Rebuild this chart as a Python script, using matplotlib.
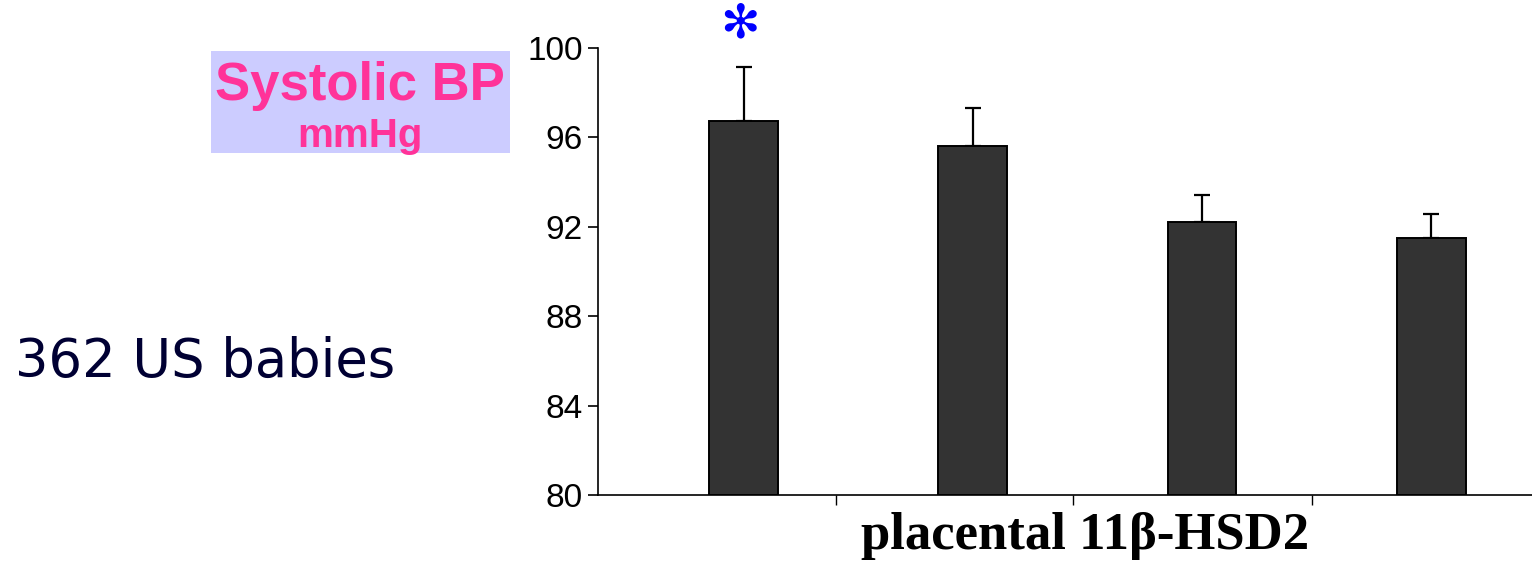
import matplotlib
matplotlib.use("Agg")
import matplotlib.pyplot as plt
from matplotlib.patches import Rectangle

# Data
groups = ["Q1", "Q2", "Q3", "Q4"]
means = [96.73, 95.62, 92.21, 91.50]
errors_up = [2.42, 1.70, 1.21, 1.07]
yticks = [80, 84, 88, 92, 96, 100]
xlabel = "placental 11β-HSD2"
ylabel_main = "Systolic BP"
ylabel_unit = "mmHg"
side_text = "362 US babies"
sig_marker = "✻"
sig_index = 0

W, H = 1532, 565
fig = plt.figure(figsize=(W / 100, H / 100), dpi=100)
ax = fig.add_axes([598 / W, 1 - 495 / H, 1 - 598 / W, (495 - 48) / H])

xs = list(range(len(groups)))
ax.bar(xs, [m - 80 for m in means], bottom=80, width=0.30, color="#333333",
       edgecolor="black", linewidth=1.4, zorder=2)
ax.errorbar(xs, means, yerr=[[0] * len(means), errors_up], fmt="none",
            ecolor="black", elinewidth=1.6, capsize=6, capthick=1.6, zorder=1)

ax.set_ylim(80, 100)
ax.set_xlim(-0.635, 3.44)
ax.set_yticks(yticks)
ax.set_yticklabels([str(v) for v in yticks], fontsize=24, family="Liberation Sans")
ax.set_xticks([0.404, 1.439, 2.478])
ax.set_xticklabels([])
ax.tick_params(axis="y", direction="out", length=7, width=1.2, pad=4)
ax.tick_params(axis="x", direction="out", length=7, width=1.0)
for s in ["top", "right"]:
    ax.spines[s].set_visible(False)
ax.spines["left"].set_linewidth(1.2)
ax.spines["bottom"].set_linewidth(1.2)

# significance marker
sig_x_fig = ax.transData.transform((xs[sig_index], 80))[0] / W
fig.text(sig_x_fig - 4 / W, 1 - 25 / H, sig_marker, ha="center", va="center",
         fontsize=34, color="#0000FF", family="DejaVu Sans")

# x label
fig.text(1085 / W, 1 - 549 / H, xlabel, ha="center", va="baseline", fontsize=38,
         fontweight="bold", family="Liberation Serif")

# y label box
fig.patches.append(Rectangle((211 / W, 1 - 153 / H), (510 - 211) / W, (153 - 51) / H,
                             transform=fig.transFigure, facecolor="#CCCCFF",
                             edgecolor="none", zorder=0))
fig.text(360 / W, 1 - 100 / H, ylabel_main, ha="center", va="baseline", fontsize=38,
         fontweight="bold", color="#FF3399", family="Liberation Sans")
fig.text(360 / W, 1 - 147 / H, ylabel_unit, ha="center", va="baseline", fontsize=29,
         fontweight="bold", color="#FF3399", family="Liberation Sans")

fig.text(15 / W, 1 - 377 / H, side_text, ha="left", va="baseline", fontsize=38,
         color="#000033", family="DejaVu Sans")

fig.savefig("out.png", dpi=100)
